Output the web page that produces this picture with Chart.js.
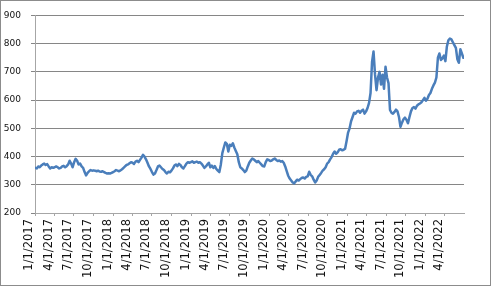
<!DOCTYPE html>
<html>
<head>
<meta charset="utf-8">
<script src="https://cdn.jsdelivr.net/npm/chart.js@4/dist/chart.umd.min.js"></script>
<style>
  html, body { margin: 0; padding: 0; background: #fff; overflow: hidden; }
  canvas { display: block; }
</style>
</head>
<body>
<canvas id="chart" width="493" height="289"></canvas>
<script>
'use strict';

// ── Data: weekly closes, one value per week (weeks start on Mondays) ──
const FIRST_WEEK = '1/2/2017';

const w2017 = [
  360, 358, 365, 362, 368, 372, 375, 370, 373, 365, 358, 362, 360,
  362, 365, 362, 358, 360, 365, 367, 362, 366, 372, 385, 375, 362,
  380, 392, 385, 372, 375, 365, 360, 345, 333, 342, 348, 352, 350,
  351, 350, 348, 350, 347, 346, 348, 345, 342, 340, 341, 340, 342,
];
const w2018 = [
  345, 348, 352, 350, 348, 351, 355, 360, 365, 370, 372, 376, 380,
  378, 374, 382, 385, 380, 388, 396, 406, 400, 390, 378, 365, 356,
  345, 336, 340, 352, 365, 368, 362, 356, 352, 345, 340, 346, 344,
  350, 358, 368, 372, 366, 374, 370, 362, 358, 366, 375, 380, 378,
];
const w2019 = [
  380, 383, 378, 380, 382, 378, 380, 375, 368, 360, 365, 372, 378,
  362, 368, 360, 366, 356, 350, 345, 372, 412, 432, 450, 445, 418,
  442, 438, 447, 432, 420, 408, 380, 362, 358, 352, 345, 350, 365,
  378, 386, 393, 390, 385, 380, 384, 378, 372, 366, 365, 380, 390,
];
const w2020 = [
  388, 384, 386, 390, 393, 388, 384, 386, 382, 384, 378, 365, 348,
  332, 322, 315, 308, 305, 312, 318, 315, 320, 324, 326, 322, 328,
  330, 346, 335, 330, 318, 308, 315, 328, 335, 342, 350, 355, 362,
  375, 380, 390, 398, 410, 418, 410, 415, 424, 426, 422, 424, 428,
];
const w2021 = [
  455, 485, 500, 525, 540, 555, 552, 560, 562, 555, 562, 566, 552,
  560, 572, 590, 625, 735, 772, 690, 635, 680, 700, 655, 690, 640,
  718, 680, 660, 565, 555, 552, 558, 566, 560, 540, 505, 520, 532,
  538, 530, 518, 540, 560, 572, 575, 570, 580, 585, 588, 592, 600,
];
const w2022 = [
  608, 598, 605, 618, 625, 640, 652, 662, 680, 750, 765, 742, 748,
  758, 738, 790, 812, 818, 815, 805, 795, 785, 745, 732, 780, 765, 750,
];

const X_TICKS = [
  '1/1/2017', '4/1/2017', '7/1/2017', '10/1/2017',
  '1/1/2018', '4/1/2018', '7/1/2018', '10/1/2018',
  '1/1/2019', '4/1/2019', '7/1/2019', '10/1/2019',
  '1/1/2020', '4/1/2020', '7/1/2020', '10/1/2020',
  '1/1/2021', '4/1/2021', '7/1/2021', '10/1/2021',
  '1/1/2022', '4/1/2022',
];
const X_START = '1/1/2017';
const X_END   = '6/30/2022';
const Y_TICKS = [200, 300, 400, 500, 600, 700, 800, 900];

// ── Helpers ────────────────────────────────────────────────────
const ORIGIN = Date.UTC(2017, 0, 1);
function dayOf(s) {
  const [m, d, y] = s.split('/').map(Number);
  return Math.round((Date.UTC(y, m - 1, d) - ORIGIN) / 864e5);
}

const closes = [...w2017, ...w2018, ...w2019, ...w2020, ...w2021, ...w2022];
const start  = dayOf(FIRST_WEEK);
const points = closes.map((v, i) => ({ x: start + 7 * i, y: v }));

const tickLabel = {};
X_TICKS.forEach(t => { tickLabel[dayOf(t)] = t; });

// ── Styles ─────────────────────────────────────────────────────
const FONT_Y    = { family: "'DejaVu Sans', sans-serif", size: 9 };
const FONT_X    = { family: "'DejaVu Sans', sans-serif", size: 11.5 };
const TEXT      = '#111111';
const GRID_CLR  = '#868686';
const AXIS_CLR  = '#a6a6a6';
const FRAME_CLR = '#8c8c8c';
const LINE_CLR  = '#4a7ebb';

// outer chart frame
const framePlugin = {
  id: 'frame',
  beforeDraw(chart) {
    const ctx = chart.ctx;
    ctx.save();
    ctx.strokeStyle = FRAME_CLR;
    ctx.lineWidth = 1;
    ctx.strokeRect(0.5, 0.5, chart.width - 3, chart.height - 4);
    ctx.restore();
  },
};

new Chart(document.getElementById('chart').getContext('2d'), {
  type: 'line',
  data: {
    datasets: [{
      data:            points,
      borderColor:     LINE_CLR,
      backgroundColor: LINE_CLR,
      borderWidth:     2.5,
      borderJoinStyle: 'round',
      borderCapStyle:  'round',
      pointRadius:     0,
      tension:         0,
      fill:            false,
    }],
  },
  options: {
    responsive: false,
    animation:  false,
    layout: { padding: { top: 15, right: 29 } },
    plugins: {
      legend:  { display: false },
      tooltip: { enabled: false },
    },
    scales: {
      x: {
        type: 'linear',
        min:  dayOf(X_START),
        max:  dayOf(X_END),
        afterBuildTicks: scale => {
          scale.ticks = X_TICKS.map(t => ({ value: dayOf(t) }));
        },
        afterFit: scale => { scale.height = 76; },
        border: { color: AXIS_CLR, width: 1 },
        grid: {
          drawOnChartArea: false,
          tickLength:      3,
          tickColor:       AXIS_CLR,
        },
        ticks: {
          autoSkip:    false,
          minRotation: 90,
          maxRotation: 90,
          padding:     3,
          labelOffset: -5.5,
          color:       TEXT,
          font:        FONT_X,
          callback:    v => tickLabel[v] || '',
        },
      },
      y: {
        min: Y_TICKS[0],
        max: Y_TICKS[Y_TICKS.length - 1],
        afterBuildTicks: scale => {
          scale.ticks = Y_TICKS.map(v => ({ value: v }));
        },
        afterFit: scale => { scale.width = 35; },
        border: { color: AXIS_CLR, width: 1 },
        grid: {
          color:      GRID_CLR,
          lineWidth:  1,
          tickLength: 4,
          tickColor:  GRID_CLR,
        },
        ticks: {
          padding: 10,
          color:   TEXT,
          font:    FONT_Y,
        },
      },
    },
  },
  plugins: [framePlugin],
});
</script>
</body>
</html>
